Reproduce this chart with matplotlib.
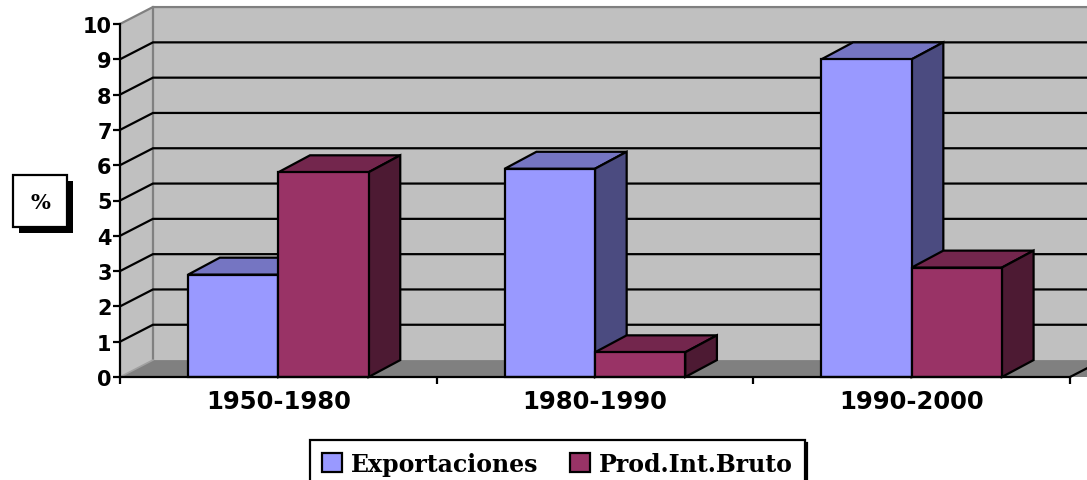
import matplotlib
matplotlib.use('Agg')
import matplotlib.pyplot as plt
from matplotlib.patches import Polygon, Rectangle, Patch

# data
categories = ["1950-1980", "1980-1990", "1990-2000"]
series_names = ["Exportaciones", "Prod.Int.Bruto"]
exportaciones = [2.9, 5.9, 9.0]
pib = [5.8, 0.7, 3.1]

W, H = 1087, 481
fig = plt.figure(figsize=(W / 100, H / 100), dpi=100)
ax = fig.add_axes([120 / W, (H - 378) / H, 950 / W, 353 / H])
ax.set_xlim(0, 3)
ax.set_ylim(0, 10)
ax.set_facecolor("none")

# 3d depth (data units)
dxw, dyw = 0.104, 0.48     # walls
dxb, dyb = 0.100, 0.48     # bars
bw = 0.285

wall_c = "#C0C0C0"
floor_c = "#808080"
n = len(categories)

# walls and floor
ax.add_patch(Polygon([(0, 0), (0, 10), (dxw, 10 + dyw), (dxw, dyw)],
                     closed=True, fc=wall_c, ec="none", zorder=0.5, clip_on=False))
ax.add_patch(Rectangle((dxw, dyw), n + 0.2, 10, fc=wall_c, ec="none",
                       zorder=0.5, clip_on=False))
ax.add_patch(Polygon([(0, 0), (n + 0.2, 0), (n + 0.2 + dxw, dyw), (dxw, dyw)],
                     closed=True, fc=floor_c, ec="none", zorder=0.6, clip_on=False))

# wall edges
ax.plot([0, dxw, n + 0.2], [10, 10 + dyw, 10 + dyw], color="#808080", lw=1.6,
        zorder=0.8, clip_on=False)
ax.plot([dxw, dxw], [dyw, 10 + dyw], color="#808080", lw=1.6, zorder=0.8, clip_on=False)
ax.plot([0, dxw], [0, dyw], color="#A0A0A0", lw=1.2, zorder=0.8, clip_on=False)
ax.plot([n, n + dxw], [0, dyw], color="black", lw=1.6, zorder=0.8, clip_on=False)

# gridlines on left and back wall
for k in range(1, 10):
    ax.plot([0, dxw, n + 0.2], [k, k + dyw, k + dyw], color="black", lw=1.6,
            zorder=0.9, clip_on=False, solid_joinstyle="miter")


def draw_bar(x0, h, front, top, side):
    kw = dict(ec="black", lw=1.6, joinstyle="miter", zorder=2, clip_on=False)
    ax.add_patch(Polygon([(x0, h), (x0 + dxb, h + dyb), (x0 + bw + dxb, h + dyb), (x0 + bw, h)],
                         closed=True, fc=top, **kw))
    ax.add_patch(Polygon([(x0 + bw, 0), (x0 + bw, h), (x0 + bw + dxb, h + dyb), (x0 + bw + dxb, dyb)],
                         closed=True, fc=side, **kw))
    ax.add_patch(Rectangle((x0, 0), bw, h, fc=front, **kw))


blue = ("#9999FF", "#7575C2", "#4B4B80")
red = ("#993366", "#73264D", "#4D1A33")
for i in range(n):
    draw_bar(i + 0.5 - bw, exportaciones[i], *blue)
    draw_bar(i + 0.5, pib[i], *red)

# axes styling
for s in ["top", "right"]:
    ax.spines[s].set_visible(False)
for s in ["left", "bottom"]:
    ax.spines[s].set_linewidth(1.6)
    ax.spines[s].set_zorder(3)

ax.set_yticks(range(11))
ax.set_yticklabels([str(v) for v in range(11)], fontsize=15, fontweight="bold",
                   family="DejaVu Sans")
ax.tick_params(axis="y", direction="out", length=5, width=1.6, pad=1)
ax.set_xticks(range(n + 1))
ax.set_xticklabels([""] * (n + 1))
ax.tick_params(axis="x", which="major", direction="out", length=5, width=1.6)
ax.set_xticks([i + 0.5 for i in range(n)], minor=True)
ax.set_xticklabels(categories, minor=True, fontsize=17.5, fontweight="bold",
                   family="DejaVu Sans")
ax.tick_params(axis="x", which="minor", length=0, pad=9)


def fpx(x, y):
    return x / W, 1 - y / H


# "%" label box with shadow
fig.patches.append(Rectangle(fpx(19, 234), 54 / W, 52 / H, transform=fig.transFigure,
                             fc="black", ec="none", zorder=1))
fig.patches.append(Rectangle(fpx(13, 228), 54 / W, 52 / H, transform=fig.transFigure,
                             fc="white", ec="black", lw=1.6, zorder=2))
fig.text(*fpx(40, 203), "%", ha="center", va="center", fontsize=15,
         family="DejaVu Serif", fontweight="bold", zorder=3)

# legend
handles = [Patch(fc=blue[0], ec="black", lw=1.6), Patch(fc=red[0], ec="black", lw=1.6)]
leg = fig.legend(handles, series_names, loc="upper left", bbox_to_anchor=fpx(310, 441),
                 ncol=2, frameon=True, fancybox=False, edgecolor="black",
                 prop=dict(family="DejaVu Serif", weight="bold", size=17),
                 handlelength=0.85, handleheight=0.85, handletextpad=0.4,
                 columnspacing=1.3, borderpad=0.5, borderaxespad=0,
                 shadow={"color": "black", "alpha": 1})
leg.get_frame().set_linewidth(1.6)

fig.savefig("out.png", dpi=100)
